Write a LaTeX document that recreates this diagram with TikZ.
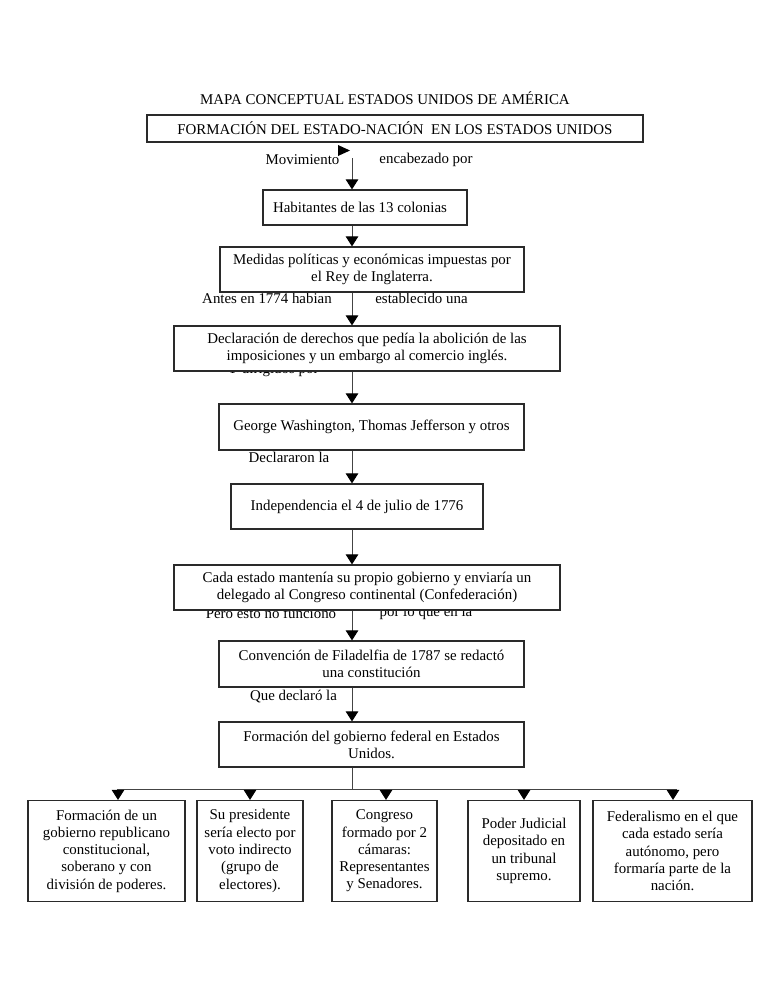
\documentclass[tikz,border=0pt]{standalone}
\usepackage{fontspec}
\setmainfont{Liberation Serif}
\usetikzlibrary{arrows.meta}
\definecolor{boxline}{HTML}{2A2A2A}
\definecolor{arrline}{HTML}{444444}
\tikzset{
  txt/.style={font=\fontsize{14.9}{17.3}\selectfont, inner sep=0pt, align=center},
  lbl/.style={txt},
  cbox/.style={txt, draw=boxline, line width=1.2pt, fill=white},
  arr/.style={draw=arrline, line width=1pt, -{Triangle[width=12.5pt,length=10pt,color=black]}},
  ln/.style={draw=arrline, line width=1pt}
}
\begin{document}
\begin{tikzpicture}[x=1pt,y=-1pt]
\useasboundingbox[fill=white] (0,0) rectangle (768,994);
% title
\node[lbl] (title) at (385,98) {MAPA CONCEPTUAL ESTADOS UNIDOS DE AMÉRICA};
% labels (some partly covered by boxes)
\node[lbl] (l1) at (302.5,160) {Movimiento};
\node[lbl] (l2) at (426,160) {encabezado por};
\node[lbl] (l3) at (267,298) {Antes en 1774 habian};
\node[lbl] (l4) at (421.5,298) {establecido una};
\node[lbl] (l5) at (273,370) {Y dirigidos por};
\node[lbl] (l6) at (289,457) {Declararon la};
\node[lbl] (l7) at (271,613) {Pero esto no funcionó};
\node[lbl] (l8) at (426,613) {por lo que en la};
\node[lbl] (l9) at (293.5,697) {Que declaró la};
% boxes
\node[cbox, minimum width=496pt, minimum height=27pt] (b1) at (395,128.5) {FORMACIÓN DEL ESTADO-NACIÓN\ \ EN LOS ESTADOS UNIDOS};
\node[cbox, minimum width=204pt, minimum height=35pt] (hab) at (365,207.5) {Habitantes de las 13 colonias\hspace{10pt}};
\node[cbox, minimum width=304pt, minimum height=45pt] (med) at (372,269.5) {Medidas políticas y económicas impuestas por\\el Rey de Inglaterra.};
\node[cbox, minimum width=386pt, minimum height=45pt] (decl) at (367,348.5) {Declaración de derechos que pedía la abolición de las\\imposiciones y un embargo al comercio inglés.};
\node[cbox, minimum width=305pt, minimum height=46pt] (geo) at (371.5,427) {George Washington, Thomas Jefferson y otros};
\node[cbox, minimum width=252pt, minimum height=45pt] (ind) at (357,506.5) {Independencia el 4 de julio de 1776};
\node[cbox, minimum width=386pt, minimum height=45pt] (cada) at (367,587.5) {Cada estado mantenía su propio gobierno y enviaría un\\delegado al Congreso continental (Confederación)};
\node[cbox, minimum width=305pt, minimum height=46pt] (conv) at (371.5,664) {Convención de Filadelfia de 1787 se redactó\\una constitución};
\node[cbox, minimum width=305pt, minimum height=45pt] (fed) at (371.5,744.5) {Formación del gobierno federal en Estados\\Unidos.};
\node[cbox, minimum width=157pt, minimum height=101pt] (A) at (106.5,851) {Formación de un\\gobierno republicano\\constitucional,\\soberano y con\\división de poderes.};
\node[cbox, minimum width=106pt, minimum height=101pt] (B) at (250,851) {Su presidente\\sería electo por\\voto indirecto\\(grupo de\\electores).};
\node[cbox, minimum width=105pt, minimum height=101pt] (C) at (384.5,851) {Congreso\\formado por 2\\cámaras:\\Representantes\\y Senadores.};
\node[cbox, minimum width=112pt, minimum height=101pt] (D) at (524,851) {Poder Judicial\\depositado en\\un tribunal\\supremo.};
\node[cbox, minimum width=159pt, minimum height=101pt] (E) at (672.5,851) {Federalismo en el que\\cada estado sería\\autónomo, pero\\formaría parte de la\\nación.};
% spine coordinates
\coordinate (spine) at (352,0);
\coordinate (m1) at (352,158);
\coordinate (bar) at (352,789);
\coordinate (barL) at (117,789);
\coordinate (barR) at (677,789);
\coordinate (a1) at (118,789);
\coordinate (a2) at (250,789);
\coordinate (a3) at (386,789);
\coordinate (a4) at (524,789);
\coordinate (a5) at (673,789);
% stray arrowhead
\fill[black] (338,145) -- (350,150.5) -- (338,156) -- cycle;
% vertical connectors
\draw[arr] (m1) -- (m1 |- hab.north);
\draw[arr] (hab.south -| spine) -- (med.north -| spine);
\draw[arr] (med.south -| spine) -- (decl.north -| spine);
\draw[arr] (decl.south -| spine) -- (geo.north -| spine);
\draw[arr] (geo.south -| spine) -- (ind.north -| spine);
\draw[arr] (ind.south -| spine) -- (cada.north -| spine);
\draw[arr] (cada.south -| spine) -- (conv.north -| spine);
\draw[arr] (conv.south -| spine) -- (fed.north -| spine);
\draw[ln] (fed.south -| spine) -- (bar);
\draw[ln] (barL) -- (barR);
\draw[arr] (a1) -- (a1 |- A.north);
\draw[arr] (a2) -- (a2 |- B.north);
\draw[arr] (a3) -- (a3 |- C.north);
\draw[arr] (a4) -- (a4 |- D.north);
\draw[arr] (a5) -- (a5 |- E.north);
\end{tikzpicture}
\end{document}
